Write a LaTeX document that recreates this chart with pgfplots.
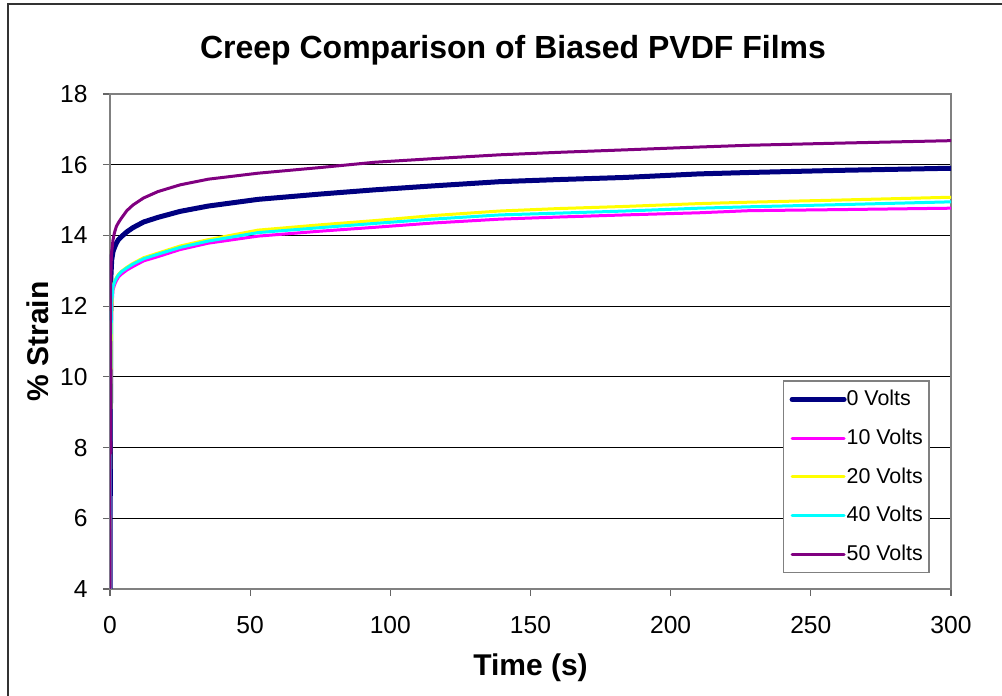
\documentclass[border=0pt]{standalone}
\usepackage{fontspec}
\setmainfont{Liberation Sans}
\usepackage{pgfplots}
\pgfplotsset{compat=1.18}
\definecolor{navyc}{HTML}{000080}
\definecolor{magc}{HTML}{FF00FF}
\definecolor{yelc}{HTML}{FFFF00}
\definecolor{cyac}{HTML}{00FFFF}
\definecolor{purc}{HTML}{800080}
\definecolor{framegray}{HTML}{808080}
\begin{document}
\begin{tikzpicture}
\useasboundingbox (0pt,0pt) rectangle (501pt,348pt);
\draw[line width=1pt, black!80] (4pt,0pt) -- (4pt,346pt) -- (501pt,346pt);
\node[font=\bfseries\fontsize{16}{19}\selectfont] at (256.5pt,323pt) {Creep Comparison of Biased PVDF Films};
\begin{axis}[
  at={(55pt,53.5pt)}, anchor=south west,
  scale only axis, width=420.5pt, height=247.5pt,
  xmin=0, xmax=300, ymin=4, ymax=18,
  xtick={0,50,...,300}, ytick={4,6,...,18},
  ymajorgrids, grid style={black, line width=0.5pt},
  axis line style={draw=framegray, line width=1pt},
  tick align=outside, tick pos=left,
  major tick length=3.5pt,
  tick style={draw=black!60, line width=0.6pt},
  /pgf/number format/assume math mode=true,
  ticklabel style={font=\fontsize{12.3}{14}\selectfont},
  yticklabel style={anchor=east, inner sep=0pt, xshift=-7.5pt},
  xticklabel style={anchor=north, inner sep=0pt, yshift=-10pt},
  xlabel={Time (s)}, ylabel={\% Strain},
  xlabel style={font=\bfseries\fontsize{15}{18}\selectfont, at={(axis description cs:0.5,0)}, anchor=center, yshift=-39.5pt},
  ylabel style={font=\bfseries\fontsize{15}{18}\selectfont, at={(axis description cs:0,0.5)}, anchor=center, rotate=0, yshift=36pt},
  legend style={at={(axis description cs:0.800,0.422)}, anchor=north west,
    draw=framegray, line width=0.8pt, fill=white,
    font=\fontsize{10.7}{12}\selectfont,
    inner xsep=3pt, inner ysep=4.6pt,
    nodes={inner sep=0pt},
    row sep=10.1pt, /tikz/column 2/.style={column sep=2.5pt}},
  legend cell align=left,
  legend image code/.code={\draw[#1] (0pt,0pt) -- (26pt,0pt);},
  every axis plot/.append style={line cap=round, line join=round},
]
\addplot[navyc, line width=2.5pt] coordinates {
(0,4) (0.3,12.8) (0.6,13.3) (1.07,13.54) (1.6,13.66) (2.26,13.78) (3,13.88) (4,13.96) (6,14.1) (8.2,14.22) (12,14.38) (17.1,14.51) (25,14.68) (35,14.83) (52.8,15.02) (75,15.17) (94.5,15.29) (115,15.4) (139,15.52) (160,15.58) (183.7,15.64) (210,15.74) (228,15.78) (260,15.84) (300,15.9)};
\addlegendentry{0 Volts}
\addplot[magc, line width=1.5pt] coordinates {
(0,4) (0.3,10.5) (0.6,11.9) (1.07,12.45) (1.6,12.6) (2.26,12.72) (3,12.82) (4,12.9) (6,13.02) (8.2,13.12) (12,13.28) (17.1,13.4) (25,13.6) (35,13.78) (52.8,13.98) (75,14.12) (94.5,14.23) (115,14.35) (139,14.46) (160,14.52) (183.7,14.58) (210,14.64) (228,14.70) (260,14.73) (300,14.77)};
\addlegendentry{10 Volts}
\addplot[yelc, line width=1.5pt] coordinates {
(0,4) (0.3,9.7) (0.5,11.5) (0.8,12.3) (1.07,12.55) (1.6,12.7) (2.26,12.8) (3,12.9) (4,12.98) (6,13.1) (8.2,13.21) (12,13.37) (17.1,13.5) (25,13.7) (35,13.88) (52.8,14.15) (75,14.3) (94.5,14.42) (115,14.56) (139,14.69) (160,14.76) (183.7,14.82) (210,14.9) (228,14.94) (260,15.0) (300,15.08)};
\addlegendentry{20 Volts}
\addplot[cyac, line width=1.5pt] coordinates {
(0,4) (0.3,11) (0.6,12.1) (1.07,12.55) (1.6,12.68) (2.26,12.79) (3,12.88) (4,12.97) (6,13.08) (8.2,13.19) (12,13.34) (17.1,13.47) (25,13.66) (35,13.84) (52.8,14.08) (75,14.22) (94.5,14.34) (115,14.46) (139,14.58) (160,14.63) (183.7,14.69) (210,14.77) (228,14.81) (260,14.87) (300,14.95)};
\addlegendentry{40 Volts}
\addplot[purc, line width=1.5pt] coordinates {
(0,4) (0.2,12.5) (0.5,13.45) (1.07,13.87) (1.6,14.08) (2.26,14.25) (3,14.36) (4,14.48) (6,14.7) (8.2,14.86) (12,15.06) (17.1,15.24) (25,15.43) (35,15.59) (52.8,15.76) (75,15.92) (94.5,16.07) (115,16.17) (139,16.28) (160,16.35) (183.7,16.42) (210,16.5) (228,16.55) (260,16.61) (300,16.68)};
\addlegendentry{50 Volts}
\end{axis}
\end{tikzpicture}
\end{document}
